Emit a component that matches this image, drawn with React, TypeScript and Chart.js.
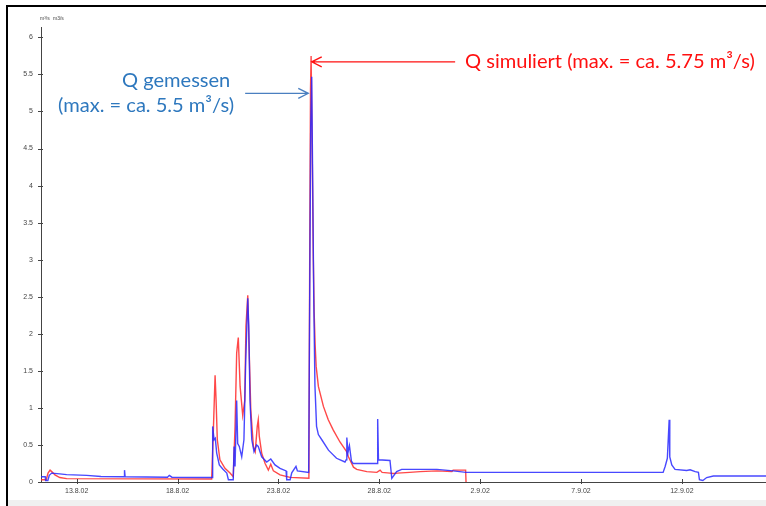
import React, { useEffect, useRef } from "react";
import { Chart, registerables } from "chart.js";

Chart.register(...registerables);

// x values are days counted from 1 Aug 2002 (32 = 1.9.02)
const xTickDays = [13, 18, 23, 28, 33, 38, 43];
const xTickLabels = ["13.8.02", "18.8.02", "23.8.02", "28.8.02", "2.9.02", "7.9.02", "12.9.02"];
const yTickValues = [0, 0.5, 1, 1.5, 2, 2.5, 3, 3.5, 4, 4.5, 5, 5.5, 6];

const xMin = 11.23;
const xMax = 47.17;
const yMax = 6.14;

// Q gemessen (measured discharge, m³/s)
const measuredDays = [
  11.23, 11.44, 11.46, 11.57, 11.64, 11.76, 12.16, 12.5, 13.5, 14.2,
  15.35, 15.37, 15.4, 17.5, 17.59, 17.72, 19.72, 19.74, 19.81, 19.87,
  19.94, 20.07, 20.24, 20.44, 20.52, 20.76, 20.8, 20.85, 20.93, 20.98,
  21.06, 21.18, 21.29, 21.38, 21.48, 21.53, 21.59, 21.68, 21.79, 21.92,
  22.0, 22.17, 22.42, 22.62, 22.83, 23.08, 23.38, 23.41, 23.58, 23.66,
  23.87, 23.94, 24.5, 24.55, 24.6, 24.65, 24.7, 24.75, 24.81, 24.89,
  24.98, 25.15, 25.48, 25.88, 26.3, 26.36, 26.39, 26.45, 26.52, 26.62,
  26.7, 27.9, 27.92, 27.96, 28.53, 28.62, 28.86, 29.11, 30.86, 31.66,
  32.3, 32.85, 42.07, 42.17, 42.28, 42.37, 42.4, 42.5, 42.66, 43.24,
  43.41, 43.66, 43.82, 43.87, 44.04, 44.23, 44.56, 47.17,
];
const measuredQ = [
  0.07, 0.07, 0.02, 0.02, 0.09, 0.12, 0.11, 0.1, 0.09, 0.075,
  0.07, 0.16, 0.07, 0.065, 0.09, 0.065, 0.06, 0.75, 0.57, 0.59,
  0.39, 0.23, 0.175, 0.12, 0.03, 0.03, 0.48, 0.21, 1.1, 0.52,
  0.48, 0.34, 0.57, 1.65, 2.48, 2.1, 1.1, 0.57, 0.41, 0.5,
  0.48, 0.34, 0.27, 0.31, 0.23, 0.185, 0.15, 0.03, 0.03, 0.125,
  0.21, 0.15, 0.13, 2.5, 4.8, 5.47, 4.0, 2.5, 1.3, 0.75,
  0.64, 0.57, 0.43, 0.32, 0.27, 0.3, 0.6, 0.4, 0.49, 0.28,
  0.25, 0.25, 0.85, 0.3, 0.29, 0.05, 0.14, 0.17, 0.17, 0.15,
  0.13, 0.13, 0.13, 0.21, 0.32, 0.84, 0.34, 0.23, 0.17, 0.155,
  0.165, 0.14, 0.13, 0.03, 0.02, 0.06, 0.08, 0.08,
];

// Q simuliert (simulated discharge, m³/s)
const simulatedDays = [
  11.23, 11.49, 11.58, 11.68, 11.8, 11.92, 12.16, 12.5, 19.69, 19.77,
  19.86, 19.91, 19.97, 20.1, 20.35, 20.6, 20.76, 20.85, 20.93, 21.01,
  21.1, 21.23, 21.33, 21.39, 21.48, 21.54, 21.63, 21.76, 21.85, 21.95,
  22.0, 22.05, 22.17, 22.34, 22.5, 22.62, 22.75, 23.08, 23.58, 24.51,
  24.55, 24.59, 24.62, 24.68, 24.73, 24.77, 24.82, 24.87, 24.98, 25.23,
  25.47, 25.72, 26.05, 26.38, 26.47, 26.72, 26.88, 27.38, 27.88, 28.04,
  28.14, 28.53, 28.7, 28.9, 29.5, 30.02, 30.86, 31.6, 31.66, 32.28,
  32.3,
];
const simulatedQ = [
  0.03, 0.03, 0.12, 0.16, 0.13, 0.095, 0.06, 0.045, 0.04, 0.66,
  1.44, 1.1, 0.57, 0.3, 0.185, 0.12, 0.07, 0.75, 1.74, 1.95,
  1.29, 0.9, 1.1, 2.1, 2.52, 1.87, 0.97, 0.48, 0.41, 0.75,
  0.84, 0.62, 0.39, 0.25, 0.16, 0.24, 0.15, 0.095, 0.063, 0.05,
  3.0, 5.3, 5.75, 4.3, 3.0, 2.3, 1.85, 1.56, 1.29, 1.02,
  0.84, 0.7, 0.54, 0.41, 0.34, 0.2, 0.17, 0.14, 0.13, 0.16,
  0.13, 0.12, 0.115, 0.12, 0.13, 0.14, 0.15, 0.14, 0.16, 0.16,
  0.0,
];

const unitLabels = ["m³/s", "m3/s"];
const redNote = "Q simuliert (max. = ca. 5.75 m³/s)";
const blueNote = ["Q gemessen", "(max. = ca. 5.5 m³/s)"];

// arrow tips / tails in data coordinates (day, m³/s)
const redArrow = { fromDay: 31.76, toDay: 24.65, q: 5.67 };
const blueArrow = { fromDay: 21.35, toDay: 24.48, q: 5.245 };

const AXIS = "#444";
const TICK_FONT = { family: '"Liberation Sans", Arial, sans-serif', size: 7 };
const BLUE_LINE = "rgba(40,40,255,0.85)";
const RED_LINE = "rgba(255,40,40,0.85)";
const RED_TEXT = "#ff1010";
const BLUE_TEXT = "#2e78be";
const BLUE_ARROW = "#4a7fc0";

function drawArrow(ctx: CanvasRenderingContext2D, x1: number, y: number, x2: number, color: string) {
  const dir = x2 > x1 ? 1 : -1;
  ctx.strokeStyle = color;
  ctx.lineWidth = 1.3;
  ctx.beginPath();
  ctx.moveTo(x1, y);
  ctx.lineTo(x2, y);
  ctx.moveTo(x2 - dir * 10, y - 5);
  ctx.lineTo(x2, y);
  ctx.lineTo(x2 - dir * 10, y + 5);
  ctx.stroke();
}

const overlayPlugin = {
  id: "overlay",
  afterDraw(chart: any) {
    const { ctx, chartArea } = chart;
    const xs = chart.scales.x;
    const ys = chart.scales.y;
    ctx.save();
    // tick marks crossing the axes
    ctx.strokeStyle = AXIS;
    ctx.lineWidth = 1;
    ctx.beginPath();
    yTickValues.forEach((v) => {
      const py = Math.round(ys.getPixelForValue(v)) + 0.5;
      ctx.moveTo(chartArea.left - 3, py);
      ctx.lineTo(chartArea.left + 2, py);
    });
    xTickDays.forEach((d) => {
      const px = Math.round(xs.getPixelForValue(d)) + 0.5;
      ctx.moveTo(px, chartArea.bottom - 3);
      ctx.lineTo(px, chartArea.bottom + 2);
    });
    ctx.stroke();

    // unit labels
    ctx.fillStyle = AXIS;
    ctx.font = '5px "Liberation Sans", Arial, sans-serif';
    ctx.textBaseline = "middle";
    ctx.textAlign = "left";
    ctx.fillText(unitLabels[0], 40, 19);
    ctx.fillText(unitLabels[1], 53, 19);

    // annotation texts
    const fam = 'Lato, "Open Sans", sans-serif';
    ctx.font = `17px ${fam}`;
    const w = ctx.measureText(redNote).width;
    const size = (17 * 290) / w;
    ctx.font = `${size}px ${fam}`;
    ctx.textBaseline = "alphabetic";
    ctx.fillStyle = RED_TEXT;
    ctx.fillText(redNote, 465, 68.3);
    ctx.fillStyle = BLUE_TEXT;
    ctx.fillText(blueNote[0], 122, 86.7);
    ctx.fillText(blueNote[1], 58, 112.3);

    // arrows
    drawArrow(
      ctx,
      xs.getPixelForValue(redArrow.fromDay),
      ys.getPixelForValue(redArrow.q),
      xs.getPixelForValue(redArrow.toDay),
      RED_TEXT
    );
    drawArrow(
      ctx,
      xs.getPixelForValue(blueArrow.fromDay),
      ys.getPixelForValue(blueArrow.q),
      xs.getPixelForValue(blueArrow.toDay),
      BLUE_ARROW
    );
    ctx.restore();
  },
};

export default function App() {
  const canvasRef = useRef<HTMLCanvasElement | null>(null);

  useEffect(() => {
    const canvas = canvasRef.current;
    if (!canvas) return;
    const chart = new Chart(canvas, {
      type: "line",
      data: {
        datasets: [
          {
            label: "Q gemessen",
            data: measuredDays.map((d, i) => ({ x: d, y: measuredQ[i] })),
            borderColor: BLUE_LINE,
            borderWidth: 1.4,
            pointRadius: 0,
            tension: 0,
            fill: false,
          },
          {
            label: "Q simuliert",
            data: simulatedDays.map((d, i) => ({ x: d, y: simulatedQ[i] })),
            borderColor: RED_LINE,
            borderWidth: 1.4,
            pointRadius: 0,
            tension: 0,
            fill: false,
          },
        ],
      },
      options: {
        animation: false,
        responsive: false,
        events: [],
        layout: { padding: { top: 27, left: 0, right: 0, bottom: 0 } },
        plugins: { legend: { display: false }, tooltip: { enabled: false } },
        scales: {
          x: {
            type: "linear",
            min: xMin,
            max: xMax,
            afterBuildTicks: (s: any) => {
              s.ticks = xTickDays.map((v) => ({ value: v }));
            },
            afterFit: (s: any) => {
              s.height = 24;
            },
            grid: { display: false, drawTicks: false },
            border: { display: true, color: AXIS, width: 1 },
            ticks: {
              autoSkip: false,
              maxRotation: 0,
              padding: 5,
              color: AXIS,
              font: TICK_FONT,
              callback: (v: any) => {
                const i = xTickDays.indexOf(Number(v));
                return i >= 0 ? xTickLabels[i] : "";
              },
            },
          },
          y: {
            type: "linear",
            min: 0,
            max: yMax,
            afterBuildTicks: (s: any) => {
              s.ticks = yTickValues.map((v) => ({ value: v }));
            },
            afterFit: (s: any) => {
              s.width = 41;
            },
            grid: { display: false, drawTicks: false },
            border: { display: true, color: AXIS, width: 1 },
            ticks: {
              autoSkip: false,
              padding: 8,
              color: AXIS,
              font: TICK_FONT,
              callback: (v: any) => String(v),
            },
          },
        },
      },
      plugins: [overlayPlugin],
    } as any);
    return () => chart.destroy();
  }, []);

  return (
    <div
      style={{
        position: "absolute",
        left: 0,
        top: 0,
        width: 766,
        height: 506,
        background: "#fff",
        overflow: "hidden",
      }}
    >
      <canvas
        ref={canvasRef}
        width={766}
        height={506}
        style={{ position: "absolute", left: 0, top: 0, width: 766, height: 506 }}
      />
      <div style={{ position: "absolute", left: 6, top: 5, width: 760, height: 2, background: "#000" }} />
      <div style={{ position: "absolute", left: 6, top: 5, width: 2, height: 501, background: "#000" }} />
      <div style={{ position: "absolute", left: 8, top: 500, width: 758, height: 6, background: "#f0f0f0" }} />
    </div>
  );
}
